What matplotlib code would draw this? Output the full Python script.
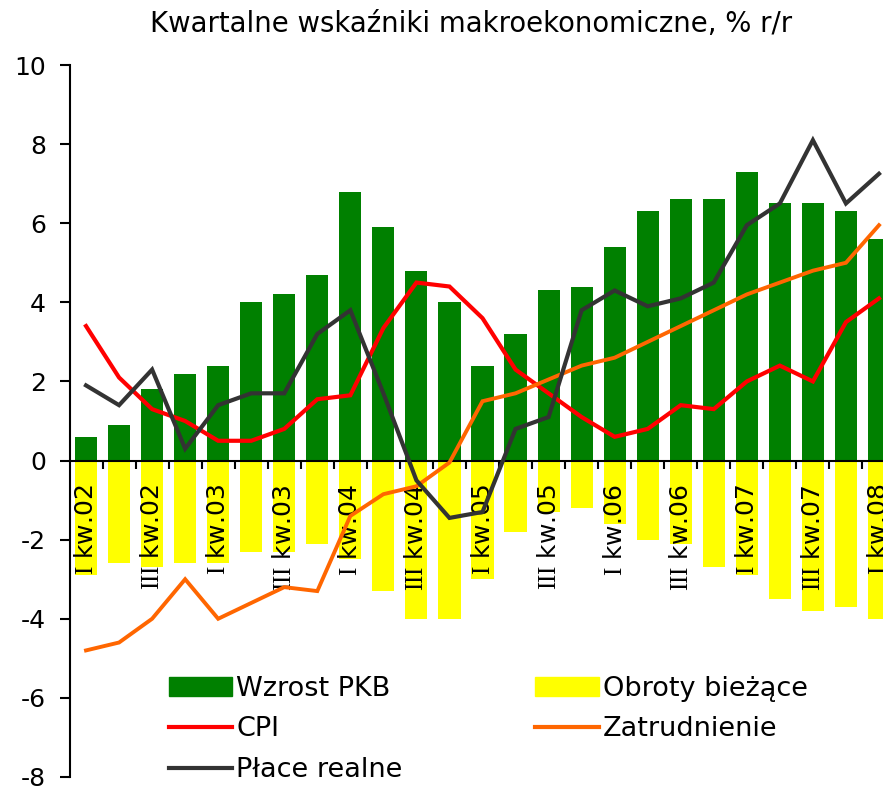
import matplotlib
matplotlib.use("Agg")
import matplotlib.pyplot as plt
import numpy as np
from matplotlib.patches import Patch
from matplotlib.lines import Line2D

plt.rcParams['font.family'] = ['DejaVu Sans']
plt.rcParams['mathtext.fontset'] = 'custom'
plt.rcParams['mathtext.rm'] = 'Liberation Serif'

quarters = ["I", "II", "III", "IV"]
years = ["02", "03", "04", "05", "06", "07", "08"]
categories = [f"{q} kw.{y}" for y in years for q in quarters][:25]

pkb = [0.6, 0.9, 1.8, 2.2, 2.4, 4.0, 4.2, 4.7, 6.8, 5.9, 4.8, 4.0, 2.4,
       3.2, 4.3, 4.4, 5.4, 6.3, 6.6, 6.6, 7.3, 6.5, 6.5, 6.3, 5.6]
obroty = [-2.9, -2.6, -2.7, -2.6, -2.6, -2.3, -2.3, -2.1, -2.5, -3.3, -4.0, -4.0, -3.0,
          -1.8, -1.3, -1.2, -1.6, -2.0, -2.1, -2.7, -2.9, -3.5, -3.8, -3.7, -4.0]
cpi = [3.4, 2.1, 1.3, 1.0, 0.5, 0.5, 0.8, 1.55, 1.65, 3.35, 4.5, 4.4, 3.6,
       2.3, 1.7, 1.1, 0.6, 0.8, 1.4, 1.3, 2.0, 2.4, 2.0, 3.5, 4.1]
zatrudnienie = [-4.8, -4.6, -4.0, -3.0, -4.0, -3.6, -3.2, -3.3, -1.4, -0.85, -0.65, -0.05, 1.5,
                1.7, 2.05, 2.4, 2.6, 3.0, 3.4, 3.8, 4.2, 4.5, 4.8, 5.0, 5.95]
place = [1.9, 1.4, 2.3, 0.3, 1.4, 1.7, 1.7, 3.2, 3.8, 1.7, -0.5, -1.45, -1.3,
         0.8, 1.1, 3.8, 4.3, 3.9, 4.1, 4.5, 5.95, 6.5, 8.1, 6.5, 7.25]

yticks = [10, 8, 6, 4, 2, 0, -2, -4, -6, -8]

fig = plt.figure(figsize=(8.83, 7.87), dpi=100)
ax = fig.add_axes([69.5/883, 10/787, 826/883, 712/787])

x = np.arange(len(categories))
w = 0.67
ax.bar(x, pkb, width=w, color='#008000', zorder=1)
ax.bar(x, obroty, width=w, color='#FFFF00', zorder=1)
ax.plot(x, cpi, color='#FF0000', lw=3, zorder=4, solid_joinstyle='miter')
ax.plot(x, zatrudnienie, color='#FF6600', lw=2.8, zorder=4, solid_joinstyle='miter')
ax.plot(x, place, color='#333333', lw=3, zorder=5, solid_joinstyle='miter')

ax.set_xlim(-0.5, len(categories) - 0.5)
ax.set_ylim(-8, 10)

for s in ['top', 'right']:
    ax.spines[s].set_visible(False)
ax.spines['bottom'].set_position(('data', 0))
ax.spines['left'].set_linewidth(1.5)
ax.spines['bottom'].set_linewidth(1.5)
ax.xaxis.set_zorder(1.5)

ax.set_yticks(yticks)
ax.set_yticklabels([str(v) for v in yticks], fontsize=18)
ax.tick_params(axis='y', direction='out', length=7, width=1.5, pad=10)

lab_idx = list(range(0, len(categories), 2))
labels = []
for i in lab_idx:
    q, rest = categories[i].split(" ", 1)
    labels.append(r"$\mathrm{" + q + "}$ " + rest)
ax.set_xticks(lab_idx)
ax.set_xticklabels(labels, rotation=90, fontsize=18, va='top', ha='center')
ax.tick_params(axis='x', which='major', length=0, pad=17)
ax.set_xticks(np.arange(-0.5, len(categories), 1)[1:], minor=True)
ax.tick_params(axis='x', which='minor', direction='out', length=6, width=1.5)

fig.text(0.533, 0.969, "Kwartalne wskaźniki makroekonomiczne, % r/r",
         ha='center', va='center', fontsize=19.8)

handles = [Patch(color='#008000'), Line2D([], [], color='#FF0000', lw=3),
           Line2D([], [], color='#333333', lw=3),
           Patch(color='#FFFF00'), Line2D([], [], color='#FF6600', lw=3)]
names = ["Wzrost PKB", "CPI", "Płace realne", "Obroty bieżące", "Zatrudnienie"]
leg = ax.legend(handles, names, ncol=2, loc='upper left',
                bbox_to_anchor=(155/883, 1 - 662/787), bbox_transform=fig.transFigure,
                frameon=False, fontsize=19.5, handlelength=2.35, handleheight=0.7,
                handletextpad=0.15, columnspacing=4.9, labelspacing=0.55,
                borderpad=0)

fig.savefig("out.png", dpi=100)
